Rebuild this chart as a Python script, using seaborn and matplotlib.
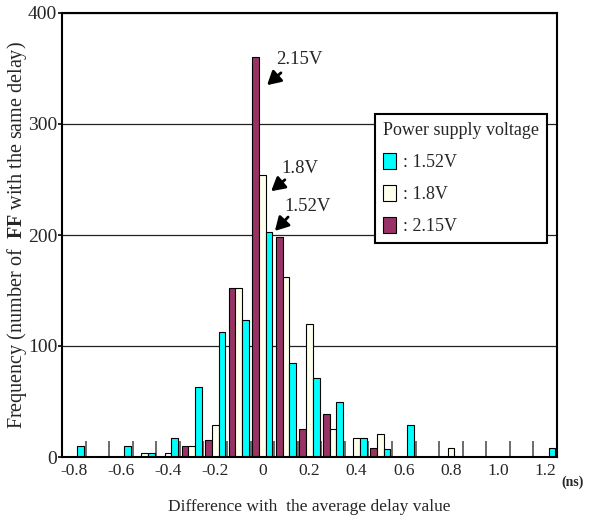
import matplotlib
matplotlib.use("Agg")
import matplotlib.pyplot as plt
import seaborn as sns
import pandas as pd
import numpy as np
from matplotlib.patches import Patch

categories = ["-0.8", "-0.7", "-0.6", "-0.5", "-0.4", "-0.3", "-0.2", "-0.1", "0", "0.1",
              "0.2", "0.3", "0.4", "0.5", "0.6", "0.7", "0.8", "0.9", "1.0", "1.1", "1.2"]
v152 = [10, 0, 10, 4, 17, 63, 113, 123, 203, 85, 71, 50, 17, 7, 29, 0, 0, 0, 0, 0, 8]
v180 = [0, 0, 0, 4, 4, 10, 29, 152, 254, 162, 120, 25, 17, 21, 0, 0, 8, 0, 0, 0, 0]
v215 = [0, 0, 0, 0, 0, 10, 15, 152, 360, 198, 25, 39, 0, 8, 0, 0, 0, 0, 0, 0, 0]
series_names = [": 1.52V", ": 1.8V", ": 2.15V"]
tick_labels = ["-0.8", "-0.6", "-0.4", "-0.2", "0", "0.2", "0.4", "0.6", "0.8", "1.0", "1.2"]

colors = {": 1.52V": "#00FFFF", ": 1.8V": "#FFFFEE", ": 2.15V": "#993366"}

df = pd.DataFrame({
    "cat": categories * 3,
    "val": v152 + v180 + v215,
    "series": [series_names[0]] * 21 + [series_names[1]] * 21 + [series_names[2]] * 21,
})

sns.set_style("white")
plt.rcParams["font.family"] = ["Liberation Serif", "DejaVu Serif"]
plt.rcParams["mathtext.fontset"] = "custom"
plt.rcParams["mathtext.rm"] = "Liberation Serif"
plt.rcParams["mathtext.bf"] = "Liberation Serif:bold"

fig = plt.figure(figsize=(5.89, 5.21), dpi=100)
ax = fig.add_axes([62 / 589, 1 - 457 / 521, 495 / 589, 444 / 521])

sns.barplot(data=df, x="cat", y="val", hue="series", order=categories,
            hue_order=[": 2.15V", ": 1.8V", ": 1.52V"], palette=colors,
            width=0.85, gap=0, edgecolor="black", linewidth=0.8,
            legend=False, ax=ax, zorder=3, saturation=1)

n = len(categories)
ax.set_xlim(-0.5, n - 0.5)
ax.set_ylim(0, 400)
ax.set_yticks([0, 100, 200, 300, 400])
ax.yaxis.grid(True, color="#222222", linewidth=0.9, zorder=0)
ax.set_axisbelow(True)

centers = np.arange(n)
ax.set_xticks(centers[::2])
ax.set_xticklabels(tick_labels)
ax.tick_params(axis="x", which="major", bottom=True, length=0, pad=4, labelsize=12.5)
ax.tick_params(axis="y", which="major", left=True, length=3, width=1.2, color="black",
               direction="out", labelsize=14, pad=0.5)

# category separators (Excel-style long inward ticks)
ax.vlines(np.arange(n - 1) + 0.5, 0, 16 / 444, transform=ax.get_xaxis_transform(),
          colors="#444444", linewidth=1.1, zorder=2)

for s in ax.spines.values():
    s.set_color("black")
    s.set_linewidth(1.5)
    s.set_visible(True)
    s.set_zorder(6)

ax.set_xlabel("Difference with  the average delay value", fontsize=12.5)
ax.xaxis.set_label_coords(0.5, -0.095)
ax.set_ylabel(r"Frequency (number of  $\mathbf{FF}$ with the same delay)", fontsize=14.5)
ax.yaxis.set_label_coords(-0.066, 0.5)

fig.text(573 / 589, 1 - 482 / 521, "(ns)", fontsize=10, fontweight="bold", ha="center", va="center")

# annotations
ann = [(": 2.15V", 299, 60, 283, 71, 265, 87),
       (": 1.8V", 300, 168, 287, 178, 269, 193),
       (": 1.52V", 308, 207, 290, 215, 273, 233)]
for name, tx, ty, ax0, ay0, ax1, ay1 in ann:
    lab = name.replace(": ", "")
    fig.text(tx / 589, 1 - ty / 521, lab, fontsize=13.5, ha="center", va="center")
    fig.add_artist(matplotlib.patches.FancyArrowPatch(
        (ax0 / 589, 1 - ay0 / 521), (ax1 / 589, 1 - ay1 / 521),
        transform=fig.transFigure, arrowstyle="-|>,head_length=8,head_width=4.5",
        mutation_scale=1, color="black", linewidth=2))

handles = [Patch(facecolor=colors[s], edgecolor="black", linewidth=0.8, label=s) for s in series_names]
leg = ax.legend(handles=handles, title="Power supply voltage", loc="upper left",
                bbox_to_anchor=(0.632, 0.772), borderaxespad=0, fontsize=13, title_fontsize=13,
                frameon=True, fancybox=False, edgecolor="black", framealpha=1,
                handlelength=0.7, handleheight=1.0, handletextpad=0.4,
                labelspacing=0.75, borderpad=0.45, alignment="left")
leg.get_frame().set_linewidth(1.5)
leg.set_zorder(7)

fig.savefig("out.png", dpi=100)
